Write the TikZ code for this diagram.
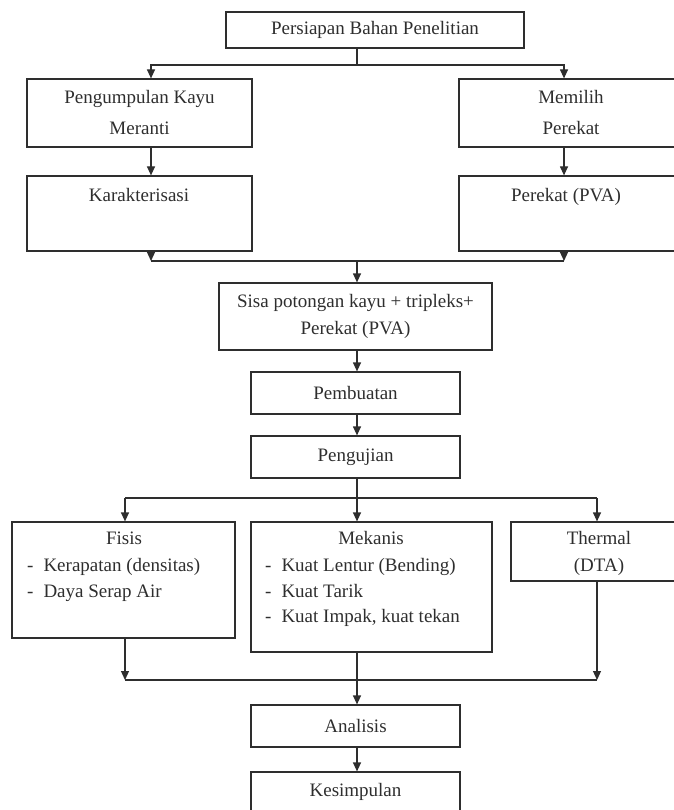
\documentclass[tikz,border=0pt]{standalone}
\usepackage{fontspec}
\setmainfont{Liberation Serif}
\usetikzlibrary{arrows.meta}
\definecolor{ink}{HTML}{2E2E2E}
\begin{document}
\begin{tikzpicture}[x=1pt,y=-1pt,
  box/.style={draw=ink, line width=1.2pt, rectangle, inner sep=0pt, align=center,
    font=\fontsize{19}{29}\selectfont, text=ink},
  txt/.style={inner sep=0pt, font=\fontsize{19}{23}\selectfont, text height=13pt, text depth=4pt, text=ink},
  arr/.style={draw=ink, line width=1.2pt, -{Triangle[length=9pt,width=8pt]}},
  ln/.style={draw=ink, line width=1.2pt}]
\useasboundingbox (0,0) rectangle (673,810);
% boxes
\node[box, minimum width=298pt, minimum height=36pt] (top) at (375,30) {Persiapan Bahan Penelitian};
\node[box, minimum width=225pt, minimum height=68pt, font=\fontsize{19}{31}\selectfont] (kayu) at (139.5,113) {Pengumpulan Kayu\\Meranti};
\node[box, minimum width=225pt, minimum height=75pt] (kar) at (139.5,213.5) {};
\node[box, minimum width=224pt, minimum height=68pt, font=\fontsize{19}{31}\selectfont] (mem) at (571,113) {Memilih\\Perekat};
\node[box, minimum width=224pt, minimum height=75pt] (pva) at (571,213.5) {};
\node[box, minimum width=273pt, minimum height=67pt, font=\fontsize{19}{27}\selectfont] (sisa) at (355.5,316.5) {Sisa potongan kayu + tripleks+\\Perekat (PVA)};
\node[box, minimum width=209pt, minimum height=42pt] (pemb) at (355.5,393) {Pembuatan};
\node[box, minimum width=209pt, minimum height=42pt] (peng) at (355.5,457) {Pengujian};
\node[box, minimum width=223pt, minimum height=116pt] (fis) at (123.5,580) {};
\node[box, minimum width=241pt, minimum height=130pt] (mek) at (371.5,587) {};
\node[box, minimum width=172pt, minimum height=59pt] (thr) at (597,551.5) {};
\node[box, minimum width=209pt, minimum height=42pt] (ana) at (355.5,726) {Analisis};
\node[box, minimum width=209pt, minimum height=40pt] (kes) at (355.5,792) {Kesimpulan};
% texts in boxes
\node[txt] (tkar) at (139,197) {Karakterisasi};
\node[txt] (tpva) at (566,197) {Perekat (PVA)};
\node[txt] (tfis) at (124,540) {Fisis};
\node[txt, anchor=west] (tfis1) at (27,567) {-\hspace{10pt}Kerapatan (densitas)};
\node[txt, anchor=west] (tfis2) at (27,593) {-\hspace{10pt}Daya Serap Air};
\node[txt] (tmek) at (371,540) {Mekanis};
\node[txt, anchor=west] (tmek1) at (265,567) {-\hspace{10pt}Kuat Lentur (Bending)};
\node[txt, anchor=west] (tmek2) at (265,593) {-\hspace{10pt}Kuat Tarik};
\node[txt, anchor=west] (tmek3) at (265,618) {-\hspace{10pt}Kuat Impak, kuat tekan};
\node[txt] (tthr1) at (599,540) {Thermal};
\node[txt] (tthr2) at (599,567) {(DTA)};
% junction coordinates
\coordinate (xm) at (357,0);
\coordinate (xl) at (151,0);
\coordinate (xr) at (564,0);
\coordinate (j1) at (357,65);
\coordinate (j2) at (357,261);
\coordinate (j3) at (357,498);
\coordinate (j4) at (357,680);
\coordinate (xf) at (125,0);
\coordinate (xt) at (597,0);
% connectors top
\draw[ln] (top.south -| xm) -- (j1);
\draw[arr] (j1) -| (kayu.north -| xl);
\draw[arr] (j1) -| (mem.north -| xr);
\draw[arr] (kayu.south -| xl) -- (kar.north -| xl);
\draw[arr] (mem.south -| xr) -- (pva.north -| xr);
\draw[arr] (kar.south -| xl) -- (j2 -| xl);
\draw[arr] (pva.south -| xr) -- (j2 -| xr);
\draw[ln] (j2 -| xl) -- (j2 -| xr);
\draw[arr] (j2) -- (sisa.north -| xm);
\draw[arr] (sisa.south -| xm) -- (pemb.north -| xm);
\draw[arr] (pemb.south -| xm) -- (peng.north -| xm);
% connectors middle
\draw[ln] (peng.south -| xm) -- (j3);
\draw[ln] (j3 -| xf) -- (j3 -| xt);
\draw[arr] (j3 -| xf) -- (fis.north -| xf);
\draw[arr] (j3) -- (mek.north -| xm);
\draw[arr] (j3 -| xt) -- (thr.north -| xt);
% connectors bottom
\draw[arr] (fis.south -| xf) -- (j4 -| xf);
\draw[arr] (thr.south -| xt) -- (j4 -| xt);
\draw[ln] (j4 -| xf) -- (j4 -| xt);
\draw[arr] (mek.south -| xm) -- (ana.north -| xm);
\draw[arr] (ana.south -| xm) -- (kes.north -| xm);
\end{tikzpicture}
\end{document}
